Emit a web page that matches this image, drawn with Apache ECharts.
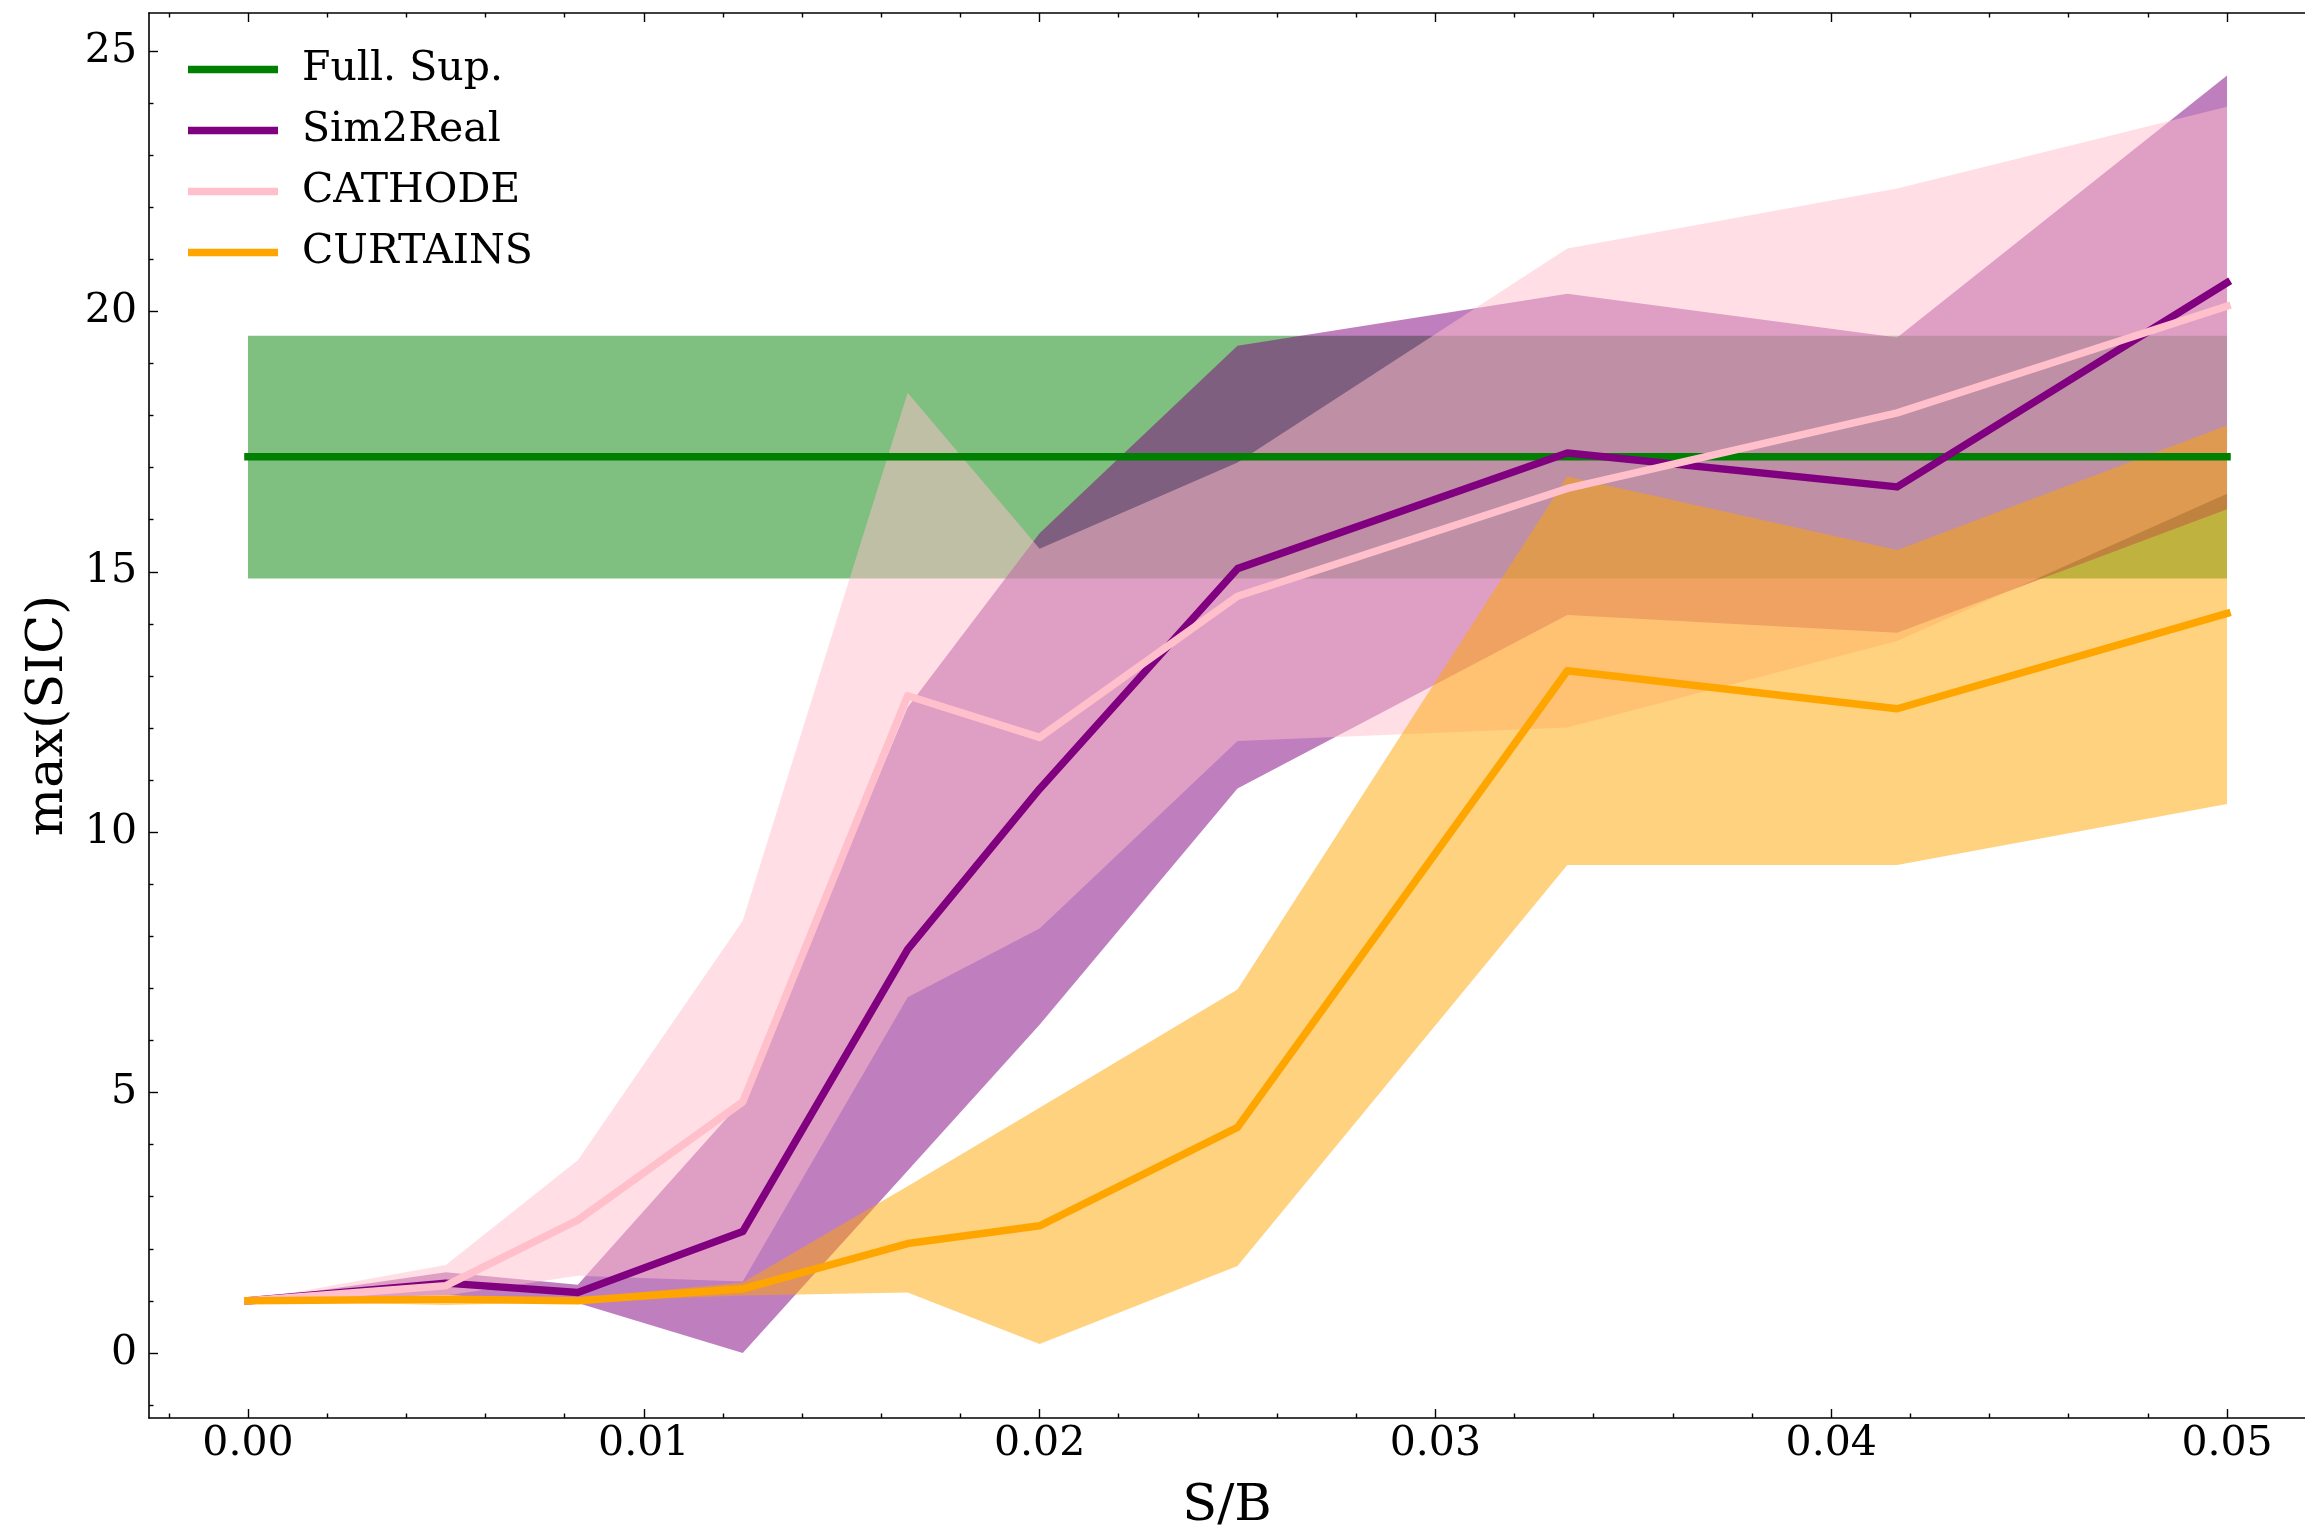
<!DOCTYPE html>
<html>
<head>
<meta charset="utf-8">
<title>max(SIC) vs S/B</title>
<script src="https://cdn.jsdelivr.net/npm/echarts@6/dist/echarts.min.js"></script>
<style>
  html, body { margin: 0; padding: 0; background: #fff; }
  #chart { width: 2305px; height: 1537px; }
</style>
</head>
<body>
<div id="chart"></div>
<script>
// S/B points of the scan
const sb = [0, 0.005, 0.008333, 0.0125, 0.016667, 0.02, 0.025, 0.033333, 0.041667, 0.05];

// Full. Sup. (flat reference band)
const fullSupX = [0, 0.05];
const fullSupMean = [17.21, 17.21];
const fullSupLow = [14.87, 14.87];
const fullSupHigh = [19.53, 19.53];

const sim2realMean = [1.0, 1.34, 1.16, 2.33, 7.75, 10.83, 15.06, 17.28, 16.63, 20.55];
const sim2realLow = [1.0, 1.11, 0.96, 0.0, 3.5, 6.3, 10.84, 14.17, 13.83, 16.2];
const sim2realHigh = [1.0, 1.55, 1.31, 4.85, 12.4, 15.74, 19.34, 20.34, 19.5, 24.53];

const cathodeMean = [1.0, 1.29, 2.55, 4.82, 12.62, 11.82, 14.53, 16.6, 18.05, 20.1];
const cathodeLow = [1.0, 1.1, 1.48, 1.37, 6.83, 8.15, 11.75, 12.01, 13.67, 16.5];
const cathodeHigh = [1.0, 1.69, 3.7, 8.3, 18.44, 15.44, 17.1, 21.21, 22.36, 23.93];

const curtainsMean = [1.0, 1.03, 1.0, 1.23, 2.1, 2.44, 4.33, 13.1, 12.37, 14.2];
const curtainsLow = [1.0, 0.92, 0.98, 1.1, 1.16, 0.17, 1.67, 9.37, 9.37, 10.54];
const curtainsHigh = [1.0, 1.1, 1.05, 1.35, 3.2, 4.71, 6.98, 16.83, 15.42, 17.81];

// ticks
const xMajor = [0, 0.01, 0.02, 0.03, 0.04, 0.05];
const yMajor = [0, 5, 10, 15, 20, 25];
const xMinor = [];
for (let i = -1; i <= 25; i++) { if (i % 5 !== 0) xMinor.push(+(i * 0.002).toFixed(3)); }
const yMinor = [];
for (let i = -1; i <= 25; i++) { if (i % 5 !== 0) yMinor.push(i); }

const FONT = 'DejaVu Serif';
// the figure is cut on the right, so the visible x range stops a bit before 0.0525
const X_MIN = -0.0025, X_MAX = 0.05197;
const Y_MIN = -1.25, Y_MAX = 25.73;

// shaded band between low and high, drawn as one polygon
function band(xs, lo, hi, color) {
  return {
    type: 'custom',
    silent: true,
    z: 1,
    data: xs.map((x, i) => [x, lo[i], hi[i]]),
    encode: { x: 0, y: [1, 2] },
    renderItem: function (params, api) {
      if (params.dataIndex !== 0) return null;
      const pts = [];
      for (let i = 0; i < xs.length; i++) pts.push(api.coord([xs[i], hi[i]]));
      for (let i = xs.length - 1; i >= 0; i--) pts.push(api.coord([xs[i], lo[i]]));
      return { type: 'polygon', shape: { points: pts }, style: { fill: color } };
    }
  };
}

function line(name, xs, ys, color) {
  return {
    name: name,
    type: 'line',
    z: 3,
    symbol: 'none',
    data: xs.map((x, i) => [x, ys[i]]),
    lineStyle: { width: 7.5, color: color, cap: 'square', join: 'round' },
    itemStyle: { color: color }
  };
}

function xAxisDef(pos, values, len, showLine, withLabels) {
  return {
    type: 'value', position: pos, min: X_MIN, max: X_MAX,
    axisLine: { show: showLine, onZero: false, lineStyle: { color: '#000', width: 1.6 } },
    axisTick: { show: true, inside: true, length: len, customValues: values, lineStyle: { color: '#000', width: 1.4 } },
    axisLabel: withLabels ? {
      show: true, customValues: values, margin: 6, color: '#000',
      fontFamily: FONT, fontSize: 41, formatter: v => v.toFixed(2)
    } : { show: false },
    splitLine: { show: false }
  };
}

function yAxisDef(values, len, showLine) {
  return {
    type: 'value', position: 'left', min: Y_MIN, max: Y_MAX,
    axisLine: { show: showLine, onZero: false, lineStyle: { color: '#000', width: 1.6 } },
    axisTick: { show: true, inside: true, length: len, customValues: values, lineStyle: { color: '#000', width: 1.4 } },
    axisLabel: { show: false },
    splitLine: { show: false }
  };
}

const chart = echarts.init(document.getElementById('chart'));
const option = {
  backgroundColor: '#fff',
  animation: false,
  grid: { left: 149, top: 13, right: 0, bottom: 111 },
  legend: {
    orient: 'vertical',
    left: 183,
    top: 44,
    icon: 'rect',
    itemWidth: 90,
    itemHeight: 7.5,
    itemGap: 20,
    data: ['Full. Sup.', 'Sim2Real', 'CATHODE', 'CURTAINS'],
    textStyle: { fontFamily: FONT, fontSize: 41, color: '#000', padding: [0, 0, 0, 19] }
  },
  xAxis: [
    Object.assign(xAxisDef('bottom', xMajor, 9, true, true), {
      name: 'S/B', nameLocation: 'middle', nameGap: 63,
      nameTextStyle: { fontFamily: FONT, fontSize: 51, color: '#000' }
    }),
    xAxisDef('bottom', xMinor, 4.5, false, false),
    xAxisDef('top', xMajor, 9, true, false),
    xAxisDef('top', xMinor, 4.5, false, false)
  ],
  yAxis: [
    Object.assign(yAxisDef(yMajor, 9, true), {
      name: 'max(SIC)', nameLocation: 'middle', nameGap: 62, nameRotate: 90,
      nameTextStyle: { fontFamily: FONT, fontSize: 51, color: '#000' },
      axisLabel: { show: true, customValues: yMajor, margin: 12, color: '#000', fontFamily: FONT, fontSize: 41 }
    }),
    yAxisDef(yMinor, 4.5, false)
  ],
  series: [
    band(fullSupX, fullSupLow, fullSupHigh, 'rgba(0,128,0,0.5)'),
    band(sb, sim2realLow, sim2realHigh, 'rgba(128,0,128,0.5)'),
    band(sb, cathodeLow, cathodeHigh, 'rgba(255,192,203,0.5)'),
    band(sb, curtainsLow, curtainsHigh, 'rgba(255,165,0,0.5)'),
    line('Full. Sup.', fullSupX, fullSupMean, '#008000'),
    line('Sim2Real', sb, sim2realMean, '#800080'),
    line('CATHODE', sb, cathodeMean, '#ffc0cb'),
    line('CURTAINS', sb, curtainsMean, '#ffa500')
  ]
};
chart.setOption(option);
</script>
</body>
</html>
